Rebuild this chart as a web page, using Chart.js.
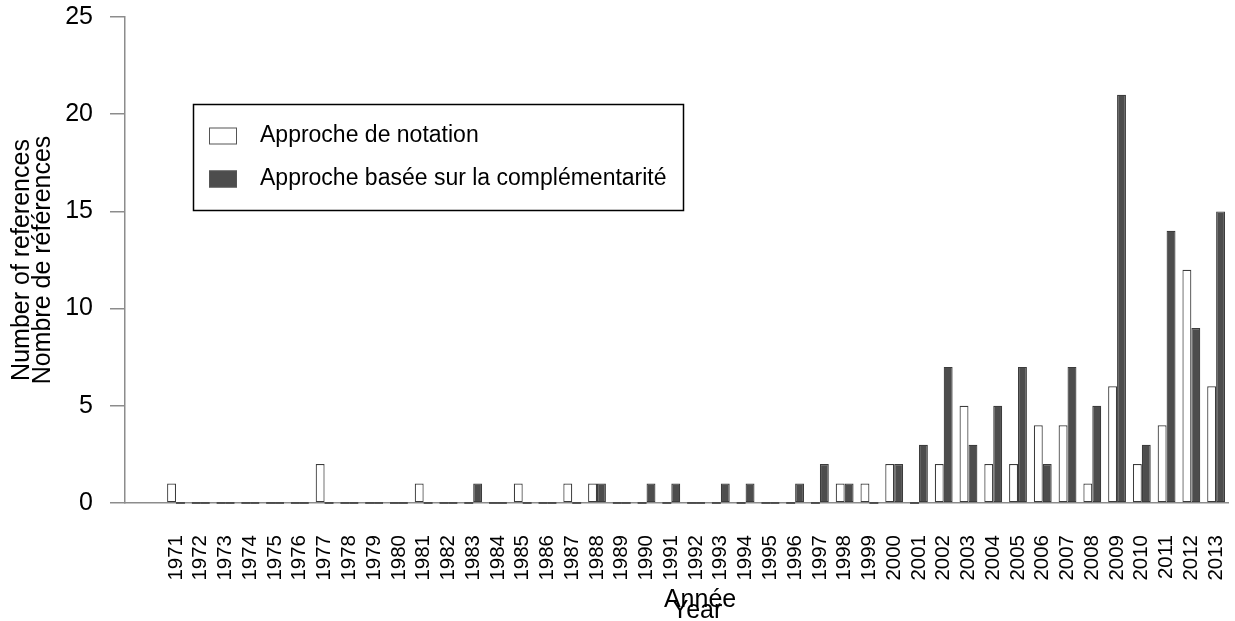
<!DOCTYPE html>
<html>
<head>
<meta charset="utf-8">
<script src="https://cdn.jsdelivr.net/npm/chart.js@4/dist/chart.umd.min.js"></script>
<style>
  html, body { margin: 0; padding: 0; background: #fff; }
  #wrap { width: 1235px; height: 621px; }
</style>
</head>
<body>
<div id="wrap"><canvas id="chart"></canvas></div>
<script>
// 1. DATA
const jaren = [1971, 1972, 1973, 1974, 1975, 1976, 1977, 1978, 1979, 1980,
               1981, 1982, 1983, 1984, 1985, 1986, 1987, 1988, 1989, 1990,
               1991, 1992, 1993, 1994, 1995, 1996, 1997, 1998, 1999, 2000,
               2001, 2002, 2003, 2004, 2005, 2006, 2007, 2008, 2009, 2010,
               2011, 2012, 2013];
const notation = [1, 0, 0, 0, 0, 0, 2, 0, 0, 0,
                  1, 0, 0, 0, 1, 0, 1, 1, 0, 0,
                  0, 0, 0, 0, 0, 0, 0, 1, 1, 2,
                  0, 2, 5, 2, 2, 4, 4, 1, 6, 2,
                  4, 12, 6];
const complementarite = [0, 0, 0, 0, 0, 0, 0, 0, 0, 0,
                         0, 0, 1, 0, 0, 0, 0, 1, 0, 1,
                         1, 0, 1, 1, 0, 1, 2, 1, 0, 2,
                         3, 7, 3, 5, 7, 2, 7, 5, 21, 3,
                         14, 9, 15];
const yTicks = [0, 5, 10, 15, 20, 25];
const reeksNamen = ['Approche de notation', 'Approche basée sur la complémentarité'];
const yTitel = ['Number of references', 'Nombre de références'];
const xTitel = ['Année', 'Year'];

const GRIJS = '#8c8c8c';
const DONKER = '#4d4d4d';
const FONT = '"Liberation Sans", Arial, sans-serif';
Chart.defaults.font.family = FONT;

// 2. PLUGINS
// nul-waarden als donker streepje op de basislijn
const nulStreepjes = {
    id: 'nulStreepjes',
    afterDatasetsDraw(chart) {
        const ctx = chart.ctx;
        ctx.save();
        ctx.strokeStyle = '#3a3a3a';
        ctx.lineWidth = 1.6;
        chart.data.datasets.forEach((ds, i) => {
            chart.getDatasetMeta(i).data.forEach((bar, j) => {
                if (ds.data[j] !== 0) return;
                ctx.beginPath();
                ctx.moveTo(bar.x - bar.width / 2, bar.y);
                ctx.lineTo(bar.x + bar.width / 2, bar.y);
                ctx.stroke();
            });
        });
        ctx.restore();
    }
};

// legende in een kader
const legendeKader = {
    id: 'legendeKader',
    afterDraw(chart) {
        const ctx = chart.ctx;
        ctx.save();
        ctx.lineWidth = 1.5;
        ctx.strokeStyle = '#000';
        ctx.strokeRect(193.5, 104.5, 490, 106);
        ctx.font = '23px ' + FONT;
        ctx.textBaseline = 'middle';
        chart.data.datasets.forEach((ds, i) => {
            const y = 136 + i * 43;
            ctx.fillStyle = ds.backgroundColor;
            ctx.fillRect(209, y - 8.5, 28, 17);
            ctx.strokeStyle = '#555';
            ctx.lineWidth = 1;
            ctx.strokeRect(209.5, y - 8, 27, 16);
            ctx.fillStyle = '#000';
            ctx.fillText(ds.label, 260, y);
        });
        ctx.restore();
    }
};

// x-titel (twee overlappende regels)
const xTitelPlugin = {
    id: 'xTitelPlugin',
    afterDraw(chart) {
        const ctx = chart.ctx;
        const midden = chart.scales.x.getPixelForValue((jaren[0] + jaren[jaren.length - 1]) / 2);
        ctx.save();
        ctx.font = '25px ' + FONT;
        ctx.fillStyle = '#000';
        ctx.textAlign = 'center';
        ctx.textBaseline = 'alphabetic';
        ctx.fillText(xTitel[0], midden + 4, 607);
        ctx.fillText(xTitel[1], midden + 1, 618);
        ctx.restore();
    }
};

// 3. GRAFIEK
new Chart(document.getElementById('chart'), {
    type: 'bar',
    data: {
        labels: jaren,
        datasets: [
            { label: reeksNamen[0], data: notation, backgroundColor: '#ffffff',
              borderColor: '#3c3c3c', borderWidth: 1.2, borderSkipped: false,
              categoryPercentage: 0.72, barPercentage: 1 },
            { label: reeksNamen[1], data: complementarite, backgroundColor: DONKER,
              borderColor: '#3c3c3c', borderWidth: 1.2, borderSkipped: false,
              categoryPercentage: 0.72, barPercentage: 1 }
        ]
    },
    options: {
        responsive: true,
        maintainAspectRatio: false,
        animation: false,
        layout: { padding: { top: 17, right: 7, left: 0, bottom: 0 } },
        plugins: { legend: { display: false }, tooltip: { enabled: false } },
        scales: {
            x: {
                type: 'linear', min: 1968.94, max: 2013.48, offset: false,
                grid: { display: true, drawOnChartArea: false, tickLength: 30, color: 'rgba(0,0,0,0)' },
                border: { display: true, color: GRIJS, width: 1.5 },
                afterBuildTicks: s => { s.ticks = jaren.map(v => ({ value: v })); },
                afterFit: s => { s.height = 118; s.paddingLeft = 0; s.paddingRight = 0; },
                ticks: { autoSkip: false, minRotation: 90, maxRotation: 90, padding: 2,
                         color: '#000', font: { size: 20.5 }, callback: v => String(v) }
            },
            y: {
                min: 0, max: 25,
                afterBuildTicks: s => { s.ticks = yTicks.map(v => ({ value: v })); },
                afterFit: s => { s.width = 125; s.paddingTop = 0; s.paddingBottom = 0; },
                grid: { drawOnChartArea: false, tickLength: 15, color: GRIJS, lineWidth: 1.5 },
                border: { color: GRIJS, width: 1.5 },
                ticks: { padding: 17, color: '#000', font: { size: 25 } },
                title: { display: true, text: yTitel, color: '#000',
                         font: { size: 25, lineHeight: '21px' }, padding: { top: 11.5, bottom: 0 } }
            }
        }
    },
    plugins: [nulStreepjes, legendeKader, xTitelPlugin]
});
</script>
</body>
</html>
